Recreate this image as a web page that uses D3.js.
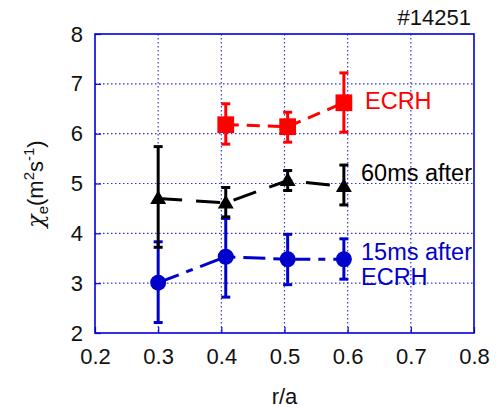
<!DOCTYPE html>
<html><head><meta charset="utf-8">
<script src="https://cdn.jsdelivr.net/npm/d3@7"></script>
<style>body{margin:0;background:#fff}svg{display:block;font-family:"Liberation Sans",Arial,sans-serif}</style>
</head><body><svg id="c" width="500" height="410"></svg>
<script>
const xTicks = [0.2,0.3,0.4,0.5,0.6,0.7,0.8];
const yTicks = [2,3,4,5,6,7,8];
const ecrhX = [0.407,0.505,0.594];
const ecrhY = [6.18,6.14,6.62];
const ecrhLo = [5.79,5.83,6.03];
const ecrhHi = [6.60,6.43,7.22];
const after60X = [0.300,0.407,0.505,0.594];
const after60Y = [4.70,4.61,5.06,4.94];
const after60Lo = [3.72,4.33,4.86,4.57];
const after60Hi = [5.74,4.92,5.26,5.37];
const after15X = [0.300,0.407,0.505,0.594];
const after15Y = [3.01,3.53,3.48,3.48];
const after15Lo = [2.21,2.72,2.97,3.08];
const after15Hi = [3.83,4.30,3.98,3.89];

const svg = d3.select("#c");
const L=95,R=474,T=34,B=333;
const x = d3.scaleLinear().domain([0.2,0.8]).range([L,R]);
const y = d3.scaleLinear().domain([2,8]).range([B,T]);

// grid
const g = svg.append("g");
g.selectAll("line.gx").data(xTicks.slice(1,-1)).join("line")
  .attr("x1",d=>x(d)).attr("x2",d=>x(d)).attr("y1",T).attr("y2",B)
  .attr("stroke","#3333dd").attr("stroke-width",1.2).attr("stroke-dasharray","1.5,2.5");
g.selectAll("line.gy").data(yTicks.slice(1,-1)).join("line")
  .attr("y1",d=>y(d)).attr("y2",d=>y(d)).attr("x1",L).attr("x2",R)
  .attr("stroke","#3333dd").attr("stroke-width",1.2).attr("stroke-dasharray","1.5,2.5");

// axes (inward ticks)
const ax = svg.append("g").attr("transform",`translate(0,${B})`)
  .call(d3.axisBottom(x).tickValues(xTicks).tickFormat(d3.format(".1f")).tickSizeInner(-6).tickSizeOuter(0).tickPadding(15));
const ay = svg.append("g").attr("transform",`translate(${L},0)`)
  .call(d3.axisLeft(y).tickValues(yTicks).tickFormat(d3.format("d")).tickSizeInner(-6).tickSizeOuter(0).tickPadding(12));
[ax,ay].forEach(a=>{
  a.select(".domain").remove();
  a.selectAll(".tick line").attr("stroke","#0000dd").attr("stroke-width",1.2);
  a.selectAll(".tick text").attr("fill","#111").style("font-size","22px").style("font-family","'Liberation Sans',Arial,sans-serif");
});
svg.append("rect").attr("x",L).attr("y",T).attr("width",R-L).attr("height",B-T)
  .attr("fill","none").attr("stroke","#0000dd").attr("stroke-width",1.6);

function series(X,Y,Lo,Hi,color,dash,marker){
  const grp = svg.append("g");
  const pts = X.map((v,i)=>({x:v,y:Y[i],lo:Lo[i],hi:Hi[i]}));
  grp.append("path").datum(pts)
    .attr("d",d3.line().x(d=>x(d.x)).y(d=>y(d.y)))
    .attr("fill","none").attr("stroke",color).attr("stroke-width",3).attr("stroke-dasharray",dash);
  const eb = grp.selectAll("g.eb").data(pts).join("g");
  eb.append("line").attr("x1",d=>x(d.x)).attr("x2",d=>x(d.x)).attr("y1",d=>y(d.lo)).attr("y2",d=>y(d.hi))
    .attr("stroke",color).attr("stroke-width",3);
  eb.append("line").attr("x1",d=>x(d.x)-4.5).attr("x2",d=>x(d.x)+4.5).attr("y1",d=>y(d.lo)).attr("y2",d=>y(d.lo))
    .attr("stroke",color).attr("stroke-width",3);
  eb.append("line").attr("x1",d=>x(d.x)-4.5).attr("x2",d=>x(d.x)+4.5).attr("y1",d=>y(d.hi)).attr("y2",d=>y(d.hi))
    .attr("stroke",color).attr("stroke-width",3);
  const sym = d3.symbol().type(marker.type).size(marker.size);
  grp.selectAll("path.m").data(pts).join("path")
    .attr("transform",d=>`translate(${x(d.x)},${y(d.y)+(marker.dy||0)})`)
    .attr("d",sym).attr("fill",color);
}
series(after15X,after15Y,after15Lo,after15Hi,"#0000cc","22,8,7,8",{type:d3.symbolCircle,size:200});
series(after60X,after60Y,after60Lo,after60Hi,"#000","24,14",{type:d3.symbolTriangle,size:110,dy:1});
series(ecrhX,ecrhY,ecrhLo,ecrhHi,"#ff0000","13,8",{type:d3.symbolSquare,size:280});

// annotations
const ann = svg.append("g").style("font-size","23.5px");
ann.append("text").attr("x",365).attr("y",109).attr("fill","#ff0000").text("ECRH");
ann.append("text").attr("x",361).attr("y",181).attr("fill","#000").text("60ms after");
ann.append("text").attr("x",361).attr("y",260).attr("fill","#0000cc").text("15ms after");
ann.append("text").attr("x",361).attr("y",285).attr("fill","#0000cc").text("ECRH");
svg.append("text").attr("x",471).attr("y",25).attr("text-anchor","end").style("font-size","22px").attr("fill","#111").text("#14251");

// axis titles
svg.append("text").attr("x",(L+R)/2).attr("y",404).attr("text-anchor","middle").style("font-size","22px").attr("fill","#111").text("r/a");
const yl = svg.append("text").attr("transform","translate(43,184) rotate(-90)").attr("text-anchor","middle")
  .style("font-size","22px").attr("fill","#111");
yl.append("tspan").style("font-family","'DejaVu Serif',serif").style("font-style","italic").text("χ");
yl.append("tspan").attr("dy",5).style("font-size","15px").text("e");
yl.append("tspan").attr("dy",-5).text("(m");
yl.append("tspan").attr("dy",-9).style("font-size","15px").text("2");
yl.append("tspan").attr("dy",9).text("s");
yl.append("tspan").attr("dy",-9).style("font-size","15px").text("-1");
yl.append("tspan").attr("dy",9).text(")");
</script></body></html>
